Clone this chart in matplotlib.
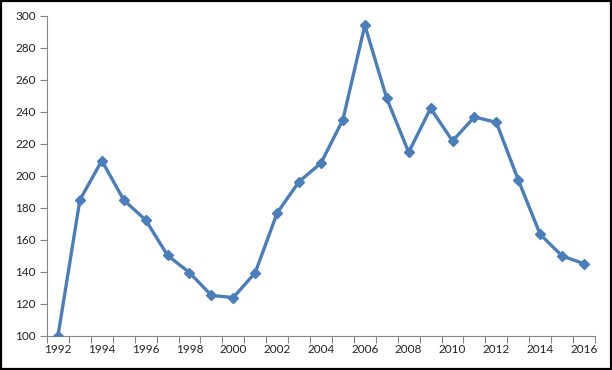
import matplotlib
matplotlib.use("Agg")
import matplotlib.pyplot as plt
from matplotlib.patches import Rectangle

years = list(range(1992, 2017))
values = [100, 185, 209.6, 185, 172.5, 150.4, 139.6, 125.4, 124, 139.6, 176.9,
          196.5, 208.1, 235.2, 294.2, 248.5, 214.8, 242.3, 221.9, 236.9, 233.5,
          197.5, 163.5, 150, 145.2]
y_ticks = list(range(100, 301, 20))

plt.rcParams['font.family'] = ['Lato', 'DejaVu Sans']

fig = plt.figure(figsize=(6.12, 3.70), dpi=100)
fig.patch.set_facecolor('white')
fig.patches.append(Rectangle((0.002, 0.003), 0.996, 0.994, transform=fig.transFigure,
                             fill=False, edgecolor='black', linewidth=1.6, zorder=10))

ax = fig.add_axes([0.0768, 0.0919, 0.8954, 0.8649])
x = list(range(len(years)))
ax.plot(x, values, color='#4A7EBB', linewidth=2.4, marker='D', markersize=5.5,
        markerfacecolor='#4A7EBB', markeredgecolor='#4A7EBB', zorder=3)

ax.set_xlim(-0.5, len(years) - 0.5)
ax.set_ylim(100, 300)

ax.set_yticks(y_ticks)
ax.set_yticklabels([str(v) for v in y_ticks])

# x: tick marks at category boundaries, labels every other year at points
ax.set_xticks([i - 0.5 for i in range(len(years) + 1)])
ax.set_xticklabels([])
ax.set_xticks(x[::2], minor=True)
ax.set_xticklabels([str(y) for y in years[::2]], minor=True)
ax.tick_params(axis='x', which='minor', length=0, pad=6)
ax.tick_params(axis='x', which='major', length=5, direction='out', color='#868686', width=0.8)
ax.tick_params(axis='y', length=5, direction='out', color='#868686', width=0.8, pad=3)
ax.tick_params(axis='both', which='both', labelsize=8.5, labelcolor='#222222')

for s in ['top', 'right']:
    ax.spines[s].set_visible(False)
for s in ['left', 'bottom']:
    ax.spines[s].set_color('#868686')
    ax.spines[s].set_linewidth(0.8)

fig.savefig('out.png', dpi=100)
